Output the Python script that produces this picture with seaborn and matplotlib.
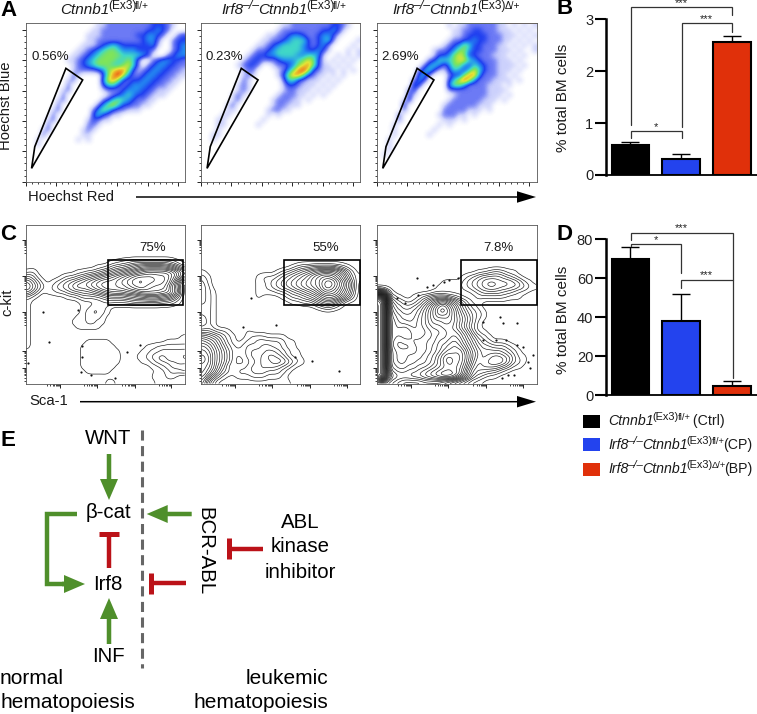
import numpy as np
import matplotlib
matplotlib.use("Agg")
import matplotlib.pyplot as plt
import seaborn as sns
from matplotlib.colors import LinearSegmentedColormap
from matplotlib.patches import FancyArrow, Rectangle, Polygon

W, H = 757, 714

# bar charts
GROUPS = ["Ctrl", "CP", "BP"]
BAR_COLORS = ["#000000", "#2343ee", "#e0300a"]
B_VALUES = [0.57, 0.30, 2.56]
B_ERRORS = [0.06, 0.10, 0.11]
D_VALUES = [70, 38, 5]
D_ERRORS = [6, 14, 2.5]
B_TICKS = [0, 1, 2, 3]
D_TICKS = [0, 20, 40, 60, 80]

# flow plots, one char per cell, base 36 level (top row first)
A1_DENSITY = [
    "00000000000000112222222223332100",
    "00000000000001122222222233432000",
    "00000000000011122222223344320023",
    "00000000000011222222222344200233",
    "00000000000111234543333334100234",
    "00000000001123456654443332000234",
    "00000000011234566665555430002344",
    "00000000112345666655652002344332",
    "00000000012345666556752023443322",
    "00000000012222346788631234433221",
    "00000000021000036897422344332211",
    "00000000120000047863233443322110",
    "00000000200000035532344433221100",
    "00000001200000012223444332111000",
    "00000002000000001234543321110000",
    "00000012000000023565432211000000",
    "00000020000000246753322110000000",
    "00000120000002465322111000000000",
    "00000200000003532110000000000000",
    "00001200000013211000000000000000",
    "00002000000022100000000000000000",
    "00012000000121000000000000000000",
    "00020000000110000000000000000000",
    "00100000001010000000000000000000",
    "00100000000000000000000000000000",
]
A2_DENSITY = [
    "00000000000000001122222222332100",
    "00000000000000012222222233431000",
    "00000000000001122344322344310000",
    "00000000000011223455532345200001",
    "00000000000112345555432342000010",
    "00000000001223455555433431000101",
    "00000000012334455554455410010101",
    "00000000123322234445676310101010",
    "00000001233200122346786311010100",
    "00000000122000012468973211101010",
    "00000000121000013688632110101000",
    "00000000210000002553211101010000",
    "00000001210000001332111010100000",
    "00000001210000001221110101000000",
    "00000012100000012221101010000000",
    "00000012000000122211010000000000",
    "00000120000000122111000000000000",
    "00000110000001221100000000000000",
    "00001100000001010000000000000000",
    "00011000000010000000000000000000",
    "00011000000100000000000000000000",
    "00010000000000000000000000000000",
    "00110000000000000000000000000000",
    "00100000000000000000000000000000",
]
A3_DENSITY = [
    "00000000000000101122222211010101",
    "00000000000000011223322211101010",
    "00000000000000011233332221110101",
    "00000000000000122334332221101010",
    "00000000000001234653322211010101",
    "00000000000122346643322211101001",
    "00000000000133467633222111010100",
    "00000000002355567754322211101000",
    "00000000024542466435432211110100",
    "00000000245311354357532211101000",
    "00000000442000233688422211010000",
    "00000002430000357974222111101000",
    "00000004300000466422221110100000",
    "00000023000000222222221111000000",
    "00000031000000012222221110100000",
    "00000130000000122222211101000000",
    "00000300000001222222111000000000",
    "00000200000002222211101000000000",
    "00002000000012221101000000000000",
    "00002000000001110100000000000000",
    "00010000000010100000000000000000",
    "00010000000100000000000000000000",
    "00010000001000000000000000000000",
    "00100000000000000000000000000000",
    "00100000000000000000000000000000",
    "00100000000000000000000000000000",
    "01000000000000000000000000000000",
]
C1_DEPTH = [
    "", "", "", "", "", "", "",
    "00000000000000000112233333333210",
    "00000000000000112344567888887642",
    "120000000011223456789abcdddddca8",
    "43100001223456789abcdeffffeedb95",
    "75310123456789abbbcdefggffeeda60",
    "86421234568789abcbccdeffedddb750",
    "64201122344556789aaabbcddddcca70",
    "21000000112333345555667788877530",
    "10000000000111223333344444433210",
    "10000000000112221000000000000000",
    "10000000000123321000000000000000",
    "10000000001122210000000000000000",
    "10000000011122110000000000000000",
    "10000000001111100000000000000000",
    "10000000000000000000000000000000",
    "10000000000000000000000000000001",
    "10000000000011111000000000001111",
    "10000000000111111100000011222222",
    "00000000000111111110000112233333",
    "00000000000111111110001123443234",
    "00000000000111111110000112344433",
    "00000000000111111100000001123444",
    "00000000000011111000000000112334",
    "00000000000000000000000001112210",
    "00000000000000001100000000111111",
]
C2_DEPTH = [
    "", "", "", "", "", "", "", "",
    "00000000000000000012334444432100",
    "10000000000000012345678 9aaa9742".replace(" ", ""),
    "2100000000012223456789bcddca8521",
    "3100000000011234567 89abcegfda74".replace(" ", ""),
    "3200000000011234567 89abcegeca74".replace(" ", ""),
    "321000000001111223456 78acdcb863".replace(" ", ""),
    "321000000001000012334567 9aa9752".replace(" ", ""),
    "32100000000000000011223567642000",
    "22100000000000000000000123210000",
    "22100000000000000000000000000000",
    "12100000000000000000000000000000",
    "12100000000000000000000000000000",
    "12100000000000000000000000000000",
    "44322100010000000000000000000000",
    "87653210012221111000000000000000",
    "a9864210122333332110000000000000",
    "cb975321233344332110000000000000",
    "dca86422234445543211000000000000",
    "eda86421234456654211000000000000",
    "eda86421123455676532100000000000",
    "dca75212234455543210000000000000",
    "db964323334443332100000000000000",
    "c9642112223332221000000000000000",
    "a5311111111111111100000000000000",
]
C3_DEPTH = [
    "", "", "", "", "", "", "", "", "",
    "00000000000000000000112332110000",
    "00000000000000000123455554321000",
    "00000000000001111234567766654210",
    "00000000000011111234567766554321",
    "a7200000000111111112344443321100",
    "rm421001234555432111222222111000",
    "uq743212357 9bca8642110000000000".replace(" ", ""),
    "uq85433457 9cefca753210000000000".replace(" ", ""),
    "uq96544568acfgdb8643210000000000",
    "uq97655578acdcda9753210000000000",
    "uq98665678abbccb9753100000000000",
    "uq98787678 9aabba864210000000000".replace(" ", ""),
    "uq98898767899abba863110000000000",
    "uq98788778 89aabcb97532100000000".replace(" ", ""),
    "uq97677888 99bbcdca8643211100000".replace(" ", ""),
    "uq976667889abcdedb97544333210000",
    "uqa87777889abdeefda8655554321000",
    "uqa877888 9abdfgffdb865677653110".replace(" ", ""),
    "uqa87788 99abdfhffda756788753210".replace(" ", ""),
    "uqa9889 9aabcdeffec9656665431100".replace(" ", ""),
    "uqca99aabcdefggfeb75443321000000",
    "uqecbbbccdefghhgda74321100000000",
    "mba98777788887654321100000000000",
]

# stray events outside the contours, axes fraction
C1_DOTS_X = [0.111, 0.146, 0.017, 0.351, 0.351, 0.347, 0.413, 0.559, 0.633, 0.716, 0.330]
C1_DOTS_Y = [0.455, 0.264, 0.134, 0.239, 0.168, 0.078, 0.057, 0.036, 0.203, 0.245, 0.465]
C2_DOTS_X = [0.311, 0.261, 0.470, 0.589, 0.697, 0.866]
C2_DOTS_Y = [0.543, 0.360, 0.371, 0.168, 0.145, 0.082]
C3_DOTS_X = [0.250, 0.312, 0.354, 0.421, 0.452, 0.506, 0.125, 0.177, 0.260, 0.667, 0.771,
             0.792, 0.875, 0.667, 0.746, 0.812, 0.781, 0.823, 0.858, 0.875, 0.917, 0.948, 0.958, 0.979]
C3_DOTS_Y = [0.669, 0.612, 0.623, 0.644, 0.654, 0.665, 0.543, 0.507, 0.560, 0.392, 0.423,
             0.381, 0.381, 0.277, 0.277, 0.277, 0.035, 0.056, 0.056, 0.245, 0.231, 0.140, 0.098, 0.182]

# gates, axes fraction
A_GATE = [(0.038, 0.084), (0.058, 0.22), (0.253, 0.713), (0.358, 0.64)]
C_GATES = [(0.514, 0.987), (0.522, 0.996), (0.529, 1.0)]
C_GATE_Y = (0.497, 0.78)

# styled label pieces: text, i = italic, s = superscript, t = tiny superscript
CTNNB = [("Ctnnb1", "i"), ("(Ex3)", "s"), ("fl/+", "t")]
CTNNB_D = [("Ctnnb1", "i"), ("(Ex3)", "s"), ("Δ/+", "t")]
IRF8 = [("Irf8", "i"), ("–/–", "si")]
A_TITLES = [CTNNB, IRF8 + CTNNB, IRF8 + CTNNB_D]
A_PCT = ["0.56%", "0.23%", "2.69%"]
C_PCT = ["75%", "55%", "7.8%"]
LEGEND = [CTNNB + [(" (Ctrl)", "r")], IRF8 + CTNNB + [("(CP)", "r")], IRF8 + CTNNB_D + [("(BP)", "r")]]

sns.set_theme(style="white")
plt.rcParams["font.family"] = ["Liberation Sans", "DejaVu Sans"]

PSEUDO = LinearSegmentedColormap.from_list("pseudo", [
    (0 / 9, "#ffffff"), (1 / 9, "#ccd1fc"), (2 / 9, "#6a78f5"), (3 / 9, "#2040f0"),
    (4 / 9, "#2490f0"), (5 / 9, "#40d8c8"), (6 / 9, "#80e45a"), (7 / 9, "#e4e436"),
    (8 / 9, "#f08a20"), (9 / 9, "#c41010")])

fig = plt.figure(figsize=(W / 100, H / 100), dpi=100)


def px_axes(x0, y0, x1, y1):
    # y0 is the top edge in picture pixels
    return fig.add_axes([x0 / W, 1 - y1 / H, (x1 - x0) / W, (y1 - y0) / H])


def parse_rows(rows, n=32):
    rows = list(rows) + [""] * (n - len(rows))
    return np.array([[int(ch, 36) for ch in row.ljust(n, "0")[:n]] for row in rows], dtype=float)


def soften(grid, n=5):
    # blur only to take the corners off the contour lines
    fine = np.kron(grid, np.ones((n, n)))
    k = np.ones(n + 2) / (n + 2)
    pad = np.pad(fine, 2 * n, mode="edge")
    for _ in range(2):
        pad = np.apply_along_axis(lambda v: np.convolve(v, k, mode="same"), 0, pad)
        pad = np.apply_along_axis(lambda v: np.convolve(v, k, mode="same"), 1, pad)
    return pad[2 * n:-2 * n, 2 * n:-2 * n]


def log_ticks(majors):
    minors = []
    for m in majors:
        for k in range(2, 10):
            minors.append(m - (1 - np.log10(k)) * 0.115)
    return minors


def style_flow(ax, xmaj, xmin, ymaj, ymin):
    ax.set_xlim(0, 1)
    ax.set_ylim(0, 1)
    ax.set_xticks(xmaj)
    ax.set_xticks(xmin, minor=True)
    ax.set_yticks(ymaj)
    ax.set_yticks(ymin, minor=True)
    ax.tick_params(which="major", length=3, width=0.7, color="#222222", labelbottom=False, labelleft=False,
                   bottom=True, left=True)
    ax.tick_params(which="minor", length=1.5, width=0.6, color="#222222", bottom=True, left=True)
    for s in ax.spines.values():
        s.set_linewidth(0.6)
        s.set_color("#555555")


A_X = [(25.5, 185.2), (201, 360.3), (376.7, 536.5)]
a_maj = [0, 0.191, 0.382, 0.573, 0.765, 0.956]
a_min = [m + 0.0382 * i for m in a_maj[:-1] for i in range(1, 5)]
for (x0, x1), rows in zip(A_X, [A1_DENSITY, A2_DENSITY, A3_DENSITY]):
    ax = px_axes(x0, 22.7, x1, 181.7)
    ax.imshow(parse_rows(rows), extent=(0, 1, 0, 1), origin="upper", aspect="auto", cmap=PSEUDO,
              vmin=0, vmax=9, interpolation="bicubic")
    ax.add_patch(Polygon(A_GATE, closed=True, fill=False, edgecolor="black", lw=1.2))
    ax.hlines(0.997, 0.46, 1, colors="#8fd6b0", lw=1.2)
    ax.hlines(0.997, 0.8, 1, colors="#e0a890", lw=1.2)
    style_flow(ax, a_maj, a_min, a_maj, a_min)

c_xmaj = [0.215, 0.445, 0.685, 0.914]
c_ymaj = [0.10, 0.21, 0.45, 0.68, 0.906]
c_panels = zip(A_X, [C1_DEPTH, C2_DEPTH, C3_DEPTH], C_GATES,
               [C1_DOTS_X, C2_DOTS_X, C3_DOTS_X], [C1_DOTS_Y, C2_DOTS_Y, C3_DOTS_Y])
for (x0, x1), rows, (gx0, gx1), dots_x, dots_y in c_panels:
    ax = px_axes(x0, 225, x1, 384)
    z = soften(parse_rows(rows))[::-1]
    xs = (np.arange(z.shape[1]) + 0.5) / z.shape[1]
    ys = (np.arange(z.shape[0]) + 0.5) / z.shape[0]
    ax.contour(xs, ys, z, levels=np.arange(0.5, 31), colors="#111111", linewidths=0.45)
    sns.scatterplot(x=dots_x, y=dots_y, s=2.5, color="#111111", linewidth=0, ax=ax)
    ax.add_patch(Rectangle((gx0, C_GATE_Y[0]), gx1 - gx0, C_GATE_Y[1] - C_GATE_Y[0], fill=False,
                           edgecolor="black", lw=1.2, clip_on=False, zorder=5))
    style_flow(ax, c_xmaj, log_ticks(c_xmaj), c_ymaj, log_ticks(c_ymaj))


def bar_panel(y_top, y_bottom, values, errors, ticks):
    ax = px_axes(605.7, y_top, 757, y_bottom)
    sns.barplot(x=GROUPS, y=values, hue=GROUPS, palette=BAR_COLORS, width=0.74, edgecolor="black",
                linewidth=1.5, saturation=1, legend=False, ax=ax)
    ax.errorbar(range(len(values)), values, yerr=[[0] * len(errors), errors], fmt="none", ecolor="black",
                elinewidth=1.0, capsize=6.8, capthick=1.0, zorder=0.5)
    ax.set_xlim(-0.486, 2.49)
    ax.set_ylim(ticks[0], ticks[-1])
    ax.set_yticks(ticks)
    ax.set_xticks([])
    ax.tick_params(axis="y", left=True, length=8, width=1.5, labelsize=10.5, pad=1, color="black",
                   labelcolor="#222222")
    sns.despine(ax=ax)
    ax.spines["left"].set_linewidth(1.8)
    ax.spines["bottom"].set_linewidth(1.3)
    ax.spines["left"].set_color("black")
    ax.spines["bottom"].set_color("black")
    ax.patch.set_alpha(0)
    return ax


bar_panel(19.3, 175, B_VALUES, B_ERRORS, B_TICKS)
bar_panel(239.3, 395.3, D_VALUES, D_ERRORS, D_TICKS)

# overlay in picture pixels for labels, brackets and the pathway sketch
ov = fig.add_axes([0, 0, 1, 1], zorder=10)
ov.set_xlim(0, W)
ov.set_ylim(H, 0)
ov.axis("off")

TXT = "#1a1a1a"
renderer = fig.canvas.get_renderer()
RUN_STYLE = {"r": (1.0, "normal", 0), "i": (1.0, "italic", 0), "s": (0.78, "normal", 5.5),
             "t": (0.66, "normal", 5.5), "si": (0.8, "italic", 5.5)}


def styled(x, y, runs, size, center=False):
    # y is the baseline, pieces are laid side by side
    parts = []
    pen = 0
    for text, kind in runs:
        scale, slant, rise = RUN_STYLE[kind]
        t = ov.text(0, y - rise, text, fontsize=size * scale, style=slant, ha="left", va="baseline", color=TXT)
        parts.append((t, pen))
        pen += t.get_window_extent(renderer).width - 1.2
    start = x - pen / 2 if center else x
    for t, off in parts:
        t.set_x(start + off)


for cx, runs in zip([104, 283.5, 455.5], A_TITLES):
    styled(cx, 14.5, runs, 11, center=True)
for x, t in zip([32, 206, 381.7], A_PCT):
    ov.text(x, 57, t, ha="left", va="center", fontsize=9.5, color=TXT)
for x, t in zip([139, 312.7, 483], C_PCT):
    ov.text(x, 248, t, ha="left", va="center", fontsize=9.5, color=TXT)

for x, y, t in [(0, 11, "A"), (557, 9, "B"), (0, 235, "C"), (556.7, 235, "D"), (0, 440, "E")]:
    ov.text(x, y, t, ha="left", va="center", fontsize=16, fontweight="bold", color="black")

ov.text(28, 197, "Hoechst Red", ha="left", va="center", fontsize=10.7, color=TXT)
ov.text(6, 106, "Hoechst Blue", ha="center", va="center", rotation=90, fontsize=10.7, color=TXT)
ov.text(29, 401, "Sca-1", ha="left", va="center", fontsize=10.7, color=TXT)
ov.text(7, 302, "c-kit", ha="center", va="center", rotation=90, fontsize=10.7, color=TXT)
ov.text(563, 98, "% total BM cells", ha="center", va="center", rotation=90, fontsize=11, color=TXT)
ov.text(563, 320, "% total BM cells", ha="center", va="center", rotation=90, fontsize=11, color=TXT)

for x_start, y in [(136, 197), (80, 401.7)]:
    ov.add_patch(FancyArrow(x_start, y, 536 - x_start, 0, width=1.5, head_width=11.5, head_length=19,
                            length_includes_head=True, color="black", lw=0))


def bracket(x0, x1, y, drop0, drop1, label, lx, ly):
    ov.plot([x0, x0, x1, x1], [drop0, y, y, drop1], color="#333333", lw=0.9, solid_joinstyle="miter")
    ov.text(lx, ly, label, ha="center", va="center", fontsize=8, color="#222222")


bracket(631, 732.3, 7.3, 125, 15, "***", 681, 3.5)
bracket(681.7, 732.3, 23.3, 126.7, 31.7, "***", 706.7, 19)
bracket(631, 681.7, 131, 138.3, 138.3, "*", 656, 127)
bracket(631, 732.7, 232.7, 240, 378, "***", 681.7, 228)
bracket(631, 680.7, 244, 246, 273, "*", 655.7, 240)
bracket(680.7, 732.7, 280.3, 288, 280.3, "***", 706.7, 275)

for y0, y_mid, color, label in zip([415, 438, 463], [421, 445, 469], BAR_COLORS, LEGEND):
    ov.add_patch(Rectangle((583, y0), 17, 13, facecolor=color, edgecolor="none"))
    styled(608, y_mid + 4, label, 10.2)

# pathway sketch
GREEN = "#4f8f2b"
RED = "#bb1218"
ov.plot([141.7, 141.7], [430, 668], color="#666666", lw=2.2, dashes=(3.3, 1.8))


def arrow(x0, y0, x1, y1):
    ov.add_patch(FancyArrow(x0, y0, x1 - x0, y1 - y0, width=4.5, head_width=18, head_length=21,
                            length_includes_head=True, color=GREEN, lw=0))


arrow(109, 454, 109, 500)
arrow(109, 644, 109, 598)
arrow(191.7, 514, 146.7, 514)
ov.plot([76.7, 46.7, 46.7, 70], [514, 514, 584, 584], color=GREEN, lw=3.2, solid_joinstyle="miter",
        solid_capstyle="butt")
arrow(62, 584, 85, 584)


def tee(x0, y0, x1, y1, bar):
    ov.plot([x0, x1], [y0, y1], color=RED, lw=3.2, solid_capstyle="butt")
    if x0 == x1:
        ov.plot([x1 - bar, x1 + bar], [y1, y1], color=RED, lw=3.6, solid_capstyle="butt")
    else:
        ov.plot([x1, x1], [y1 - bar, y1 + bar], color=RED, lw=3.6, solid_capstyle="butt")


tee(109, 568, 109, 534, 10)
tee(185.7, 583, 151, 583, 10.5)
tee(263, 548.7, 228.5, 548.7, 10.5)

for x, y, t in [(108, 439, "WNT"), (108, 512, "β-cat"), (108, 585, "Irf8"), (108, 656, "INF"),
                (300, 522, "ABL"), (300, 547, "kinase"), (300, 572, "inhibitor")]:
    ov.text(x, y, t, ha="center", va="center", fontsize=14.7, color="black")
ov.text(205, 551, "BCR-ABL", ha="center", va="center", rotation=-90, fontsize=14.7, color="black")
ov.text(0, 678, "normal", ha="left", va="center", fontsize=15, color="black")
ov.text(0, 703, "hematopoiesis", ha="left", va="center", fontsize=15, color="black")
ov.text(328, 678, "leukemic", ha="right", va="center", fontsize=15, color="black")
ov.text(328, 703, "hematopoiesis", ha="right", va="center", fontsize=15, color="black")

fig.savefig("out.png", dpi=100)
